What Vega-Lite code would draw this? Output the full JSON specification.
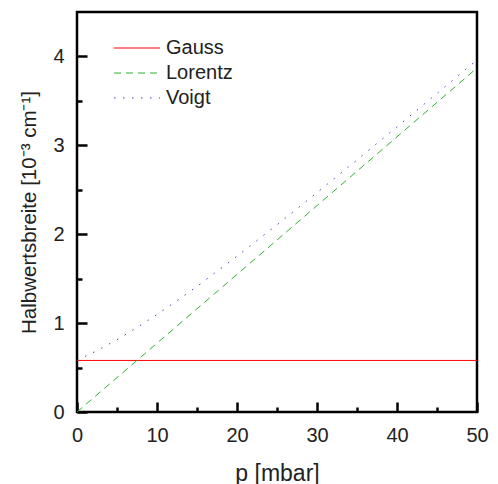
{
  "$schema": "https://vega.github.io/schema/vega-lite/v6.json",
  "width": 400,
  "height": 400,
  "autosize": "none",
  "padding": {"left": 77, "top": 12, "right": 21, "bottom": 72},
  "background": "white",
  "config": {
    "view": {"stroke": "black", "strokeWidth": 2.5},
    "font": "Liberation Sans",
    "axis": {"domain": false, "grid": false, "labelFlush": false, "labelOverlap": false, "labelFont": "Liberation Sans", "labelFontSize": 20, "labelColor": "#222", "titleFont": "Liberation Sans", "titleFontWeight": "normal", "titleColor": "#222"},
    "legend": {"orient": "none", "legendX": 47.5, "legendY": 23.5, "symbolType": "M-2,0H2", "symbolSize": 529, "symbolStrokeWidth": 1.2, "labelFont": "Liberation Sans", "labelFontSize": 20, "labelColor": "#222", "labelOffset": 16.5, "rowPadding": 2, "padding": 0}
  },
  "data": {"values": [
    {"series": "Gauss", "p": 0, "w": 0.58},
    {"series": "Gauss", "p": 50, "w": 0.58},
    {"series": "Lorentz", "p": 0, "w": 0},
    {"series": "Lorentz", "p": 50, "w": 3.87},
    {"series": "Voigt", "p": 0, "w": 0.58},
    {"series": "Voigt", "p": 2.5, "w": 0.69},
    {"series": "Voigt", "p": 5, "w": 0.814},
    {"series": "Voigt", "p": 7.5, "w": 0.95},
    {"series": "Voigt", "p": 10, "w": 1.097},
    {"series": "Voigt", "p": 12.5, "w": 1.252},
    {"series": "Voigt", "p": 15, "w": 1.413},
    {"series": "Voigt", "p": 20, "w": 1.753},
    {"series": "Voigt", "p": 25, "w": 2.106},
    {"series": "Voigt", "p": 30, "w": 2.468},
    {"series": "Voigt", "p": 35, "w": 2.836},
    {"series": "Voigt", "p": 40, "w": 3.208},
    {"series": "Voigt", "p": 45, "w": 3.584},
    {"series": "Voigt", "p": 50, "w": 3.961}
  ]},
  "mark": {"type": "line", "strokeWidth": 1, "clip": true},
  "encoding": {
    "x": {"field": "p", "type": "quantitative", "scale": {"domain": [0, 50], "nice": false, "zero": false},
      "axis": {"orient": "bottom", "values": [0, 5, 10, 15, 20, 25, 30, 35, 40, 45, 50], "format": ".0f",
        "labelExpr": "datum.value % 10 === 0 ? datum.label : ''",
        "ticks": true, "tickColor": "black", "tickWidth": 2.5,
        "tickSize": {"condition": {"test": "datum.value % 10 === 0", "value": -10}, "value": -5},
        "labelPadding": 23, "title": "p [mbar]", "titleFontSize": 23, "titlePadding": 12}},
    "y": {"field": "w", "type": "quantitative", "scale": {"domain": [0, 4.5], "nice": false, "zero": false},
      "axis": {"orient": "left", "values": [0, 0.5, 1, 1.5, 2, 2.5, 3, 3.5, 4], "format": ".0f",
        "labelExpr": "datum.value % 1 === 0 ? datum.label : ''",
        "ticks": true, "tickColor": "black", "tickWidth": 2.5,
        "tickSize": {"condition": {"test": "datum.value % 1 === 0", "value": -10}, "value": -5},
        "labelPadding": 23, "title": "Halbwertsbreite [10⁻³ cm⁻¹]", "titleFontSize": 20.5, "titlePadding": 13}},
    "color": {"field": "series", "type": "nominal", "title": null,
      "scale": {"domain": ["Gauss", "Lorentz", "Voigt"], "range": ["#ff0000", "#30b030", "#4040c0"]},
      "legend": {"encode": {"symbols": {"update": {"stroke": {"signal": "scale('color', datum.value)"}, "strokeDash": {"scale": "strokeDash", "field": "value"}}}}}},
    "strokeDash": {"field": "series", "type": "nominal", "title": null, "legend": null,
      "scale": {"domain": ["Gauss", "Lorentz", "Voigt"], "range": [[1, 0], [7, 5], [1.5, 7.5]]}}
  }
}
